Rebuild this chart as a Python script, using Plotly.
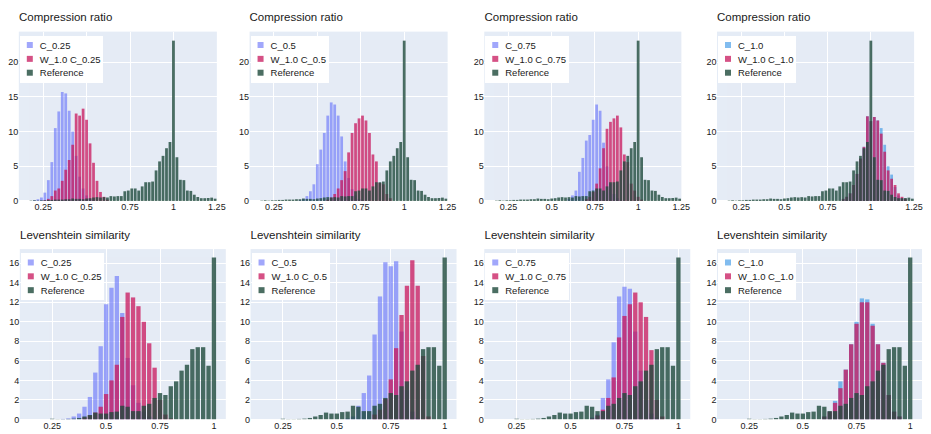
import plotly.graph_objects as go

# ---------------- data ----------------
# top row: compression ratio, bin centres (bin width 0.02)
top_bins = [0.12, 0.14, 0.16, 0.18, 0.20, 0.22, 0.24, 0.26, 0.28, 0.30,
            0.32, 0.34, 0.36, 0.38, 0.40, 0.42, 0.44, 0.46, 0.48, 0.50,
            0.52, 0.54, 0.56, 0.58, 0.60, 0.62, 0.64, 0.66, 0.68, 0.70,
            0.72, 0.74, 0.76, 0.78, 0.80, 0.82, 0.84, 0.86, 0.88, 0.90,
            0.92, 0.94, 0.96, 0.98, 1.00, 1.02, 1.04, 1.06, 1.08, 1.10,
            1.12, 1.14, 1.16, 1.18, 1.20, 1.22, 1.24]

cr_reference = [0, 0, 0, 0.05, 0.1, 0.05, 0.1, 0.1, 0.15, 0.15,
                0.2, 0.2, 0.2, 0.25, 0.25, 0.35, 0.3, 0.3, 0.25, 0.35,
                0.4, 0.5, 0.55, 0.5, 0.55, 0.5, 0.7, 0.65, 0.7, 0.7,
                1.4, 1.5, 1.8, 1.8, 1.5, 2.1, 2.7, 2.7, 2.8, 4.4,
                5.7, 6.5, 7.6, 8.5, 23.1, 6.3, 3.05, 3.0, 1.5, 1.45,
                0.9, 0.57, 0.4, 0.4, 0.43, 0.48, 0.33]

cr_c025 = [0, 0, 0, 0, 0.1, 0.25, 0.5, 1.2, 3.0, 5.6,
           10.5, 12.9, 15.7, 15.5, 13.0, 10.0, 6.5, 3.5, 1.8, 0.8,
           0.3, 0.1, 0, 0, 0, 0, 0, 0, 0, 0,
           0, 0, 0, 0, 0, 0, 0, 0, 0, 0,
           0, 0, 0, 0, 0, 0, 0, 0, 0, 0,
           0, 0, 0, 0, 0, 0, 0]
cr_w_c025 = [0, 0, 0, 0, 0, 0, 0, 0.1, 0.3, 0.7,
             1.5, 1.8, 2.9, 4.5, 5.9, 8.1, 12.6, 12.3, 13.3, 11.7,
             8.3, 5.5, 2.9, 1.3, 0.6, 0.2, 0, 0, 0, 0,
             0, 0, 0, 0, 0, 0, 0, 0, 0, 0,
             0, 0, 0, 0, 0, 0, 0, 0, 0, 0,
             0, 0, 0, 0, 0, 0, 0]

cr_c05 = [0, 0, 0, 0, 0, 0, 0, 0, 0, 0,
          0, 0, 0, 0, 0.1, 0.3, 0.7, 1.4, 2.4, 5.3,
          7.4, 9.8, 12.3, 14.2, 13.9, 12.3, 9.3, 5.7, 3.3, 1.7,
          0.8, 0.3, 0.1, 0, 0, 0, 0, 0, 0, 0,
          0, 0, 0, 0, 0, 0, 0, 0, 0, 0,
          0, 0, 0, 0, 0, 0, 0]
cr_w_c05 = [0, 0, 0, 0, 0, 0, 0, 0, 0, 0,
            0, 0, 0, 0, 0, 0, 0, 0, 0, 0,
            0, 0, 0.2, 0.5, 1.0, 1.8, 3.0, 4.3, 7.0, 9.8,
            11.2, 11.9, 12.3, 11.6, 9.8, 6.7, 5.7, 2.6, 2.4, 1.0,
            0.4, 0, 0, 0, 0, 0, 0, 0, 0, 0,
            0, 0, 0, 0, 0, 0, 0]

cr_c075 = [0, 0, 0, 0, 0, 0, 0, 0, 0, 0,
           0, 0, 0, 0, 0, 0, 0, 0, 0, 0,
           0, 0, 0, 0, 0.3, 0.8, 1.5, 4.2, 6.2, 8.7,
           9.5, 11.7, 13.9, 13.0, 8.4, 5.0, 2.5, 1.0, 0.4, 0.1,
           0, 0, 0, 0, 0, 0, 0, 0, 0, 0,
           0, 0, 0, 0, 0, 0, 0]
cr_w_c075 = [0, 0, 0, 0, 0, 0, 0, 0, 0, 0,
             0, 0, 0, 0, 0, 0, 0, 0, 0, 0,
             0, 0, 0, 0, 0, 0, 0, 0, 0, 0.3,
             0.6, 1.3, 2.5, 4.7, 7.6, 10.4, 11.4, 11.9, 12.3, 10.6,
             6.7, 5.6, 2.5, 1.5, 0.6, 0.2, 0, 0, 0, 0,
             0, 0, 0, 0, 0, 0, 0]

cr_c10 = [0, 0, 0, 0, 0, 0, 0, 0, 0, 0,
          0, 0, 0, 0, 0, 0, 0, 0, 0, 0,
          0, 0, 0, 0, 0, 0, 0, 0, 0, 0,
          0, 0, 0, 0, 0, 0, 0.3, 0.6, 1.1, 2.3,
          3.9, 6.1, 7.8, 12.2, 11.5, 12.1, 11.6, 10.5, 8.1, 5.0,
          3.8, 2.0, 0.8, 0.4, 0.2, 0, 0]
cr_w_c10 = [0, 0, 0, 0, 0, 0, 0, 0, 0, 0,
            0, 0, 0, 0, 0, 0, 0, 0, 0, 0,
            0, 0, 0, 0, 0, 0, 0, 0, 0, 0,
            0, 0, 0, 0, 0, 0, 0.3, 0.6, 1.1, 2.3,
            3.9, 6.1, 7.8, 12.2, 11.5, 12.1, 11.6, 9.7, 7.1, 4.4,
            3.2, 2.3, 1.1, 0.6, 0.3, 0, 0]

# bottom row: Levenshtein similarity, bin centres (bin width 0.025)
bot_bins = [0.1, 0.125, 0.15, 0.175, 0.2, 0.225, 0.25, 0.275, 0.3, 0.325,
            0.35, 0.375, 0.4, 0.425, 0.45, 0.475, 0.5, 0.525, 0.55, 0.575,
            0.6, 0.625, 0.65, 0.675, 0.7, 0.725, 0.75, 0.775, 0.8, 0.825,
            0.85, 0.875, 0.9, 0.925, 0.95, 0.975, 1.0]

lv_reference = [0, 0, 0, 0, 0, 0, 0.07, 0.03, 0.03, 0.05,
                0.08, 0.15, 0.3, 0.45, 0.7, 0.6, 0.6, 0.75, 0.8, 1.4,
                1.3, 0.85, 0.85, 1.4, 1.6, 2.2, 2.7, 2.5, 3.4, 3.9,
                5.0, 5.6, 7.2, 7.4, 7.4, 5.5, 16.6]

lv_c025 = [0, 0, 0, 0, 0, 0, 0, 0, 0.05, 0.1,
           0.3, 0.6, 1.3, 2.3, 4.8, 7.5, 11.8, 13.5, 14.7, 10.9,
           6.3, 3.5, 1.7, 0.8, 0.3, 0.1, 0, 0, 0, 0,
           0, 0, 0, 0, 0, 0, 0]
lv_w_c025 = [0, 0, 0, 0, 0, 0, 0, 0, 0, 0,
             0, 0, 0.2, 0.4, 0.7, 1.3, 2.6, 4.0, 5.6, 10.5,
             13.0, 12.5, 11.6, 10.0, 7.8, 5.3, 2.0, 0.5, 0.1, 0,
             0, 0, 0, 0, 0, 0, 0]

lv_c05 = [0, 0, 0, 0, 0, 0, 0, 0, 0, 0,
          0, 0, 0, 0, 0, 0, 0, 0, 0.1, 0.3,
          1.4, 2.7, 4.5, 8.7, 12.6, 16.1, 15.7, 16.2, 9.0, 3.0,
          0.8, 0.2, 0, 0, 0, 0, 0]
lv_w_c05 = [0, 0, 0, 0, 0, 0, 0, 0, 0, 0,
            0, 0, 0, 0, 0, 0, 0, 0, 0, 0,
            0, 0, 0, 0.5, 1.0, 2.1, 4.1, 7.3, 10.7, 13.7,
            16.3, 13.7, 6.5, 0.3, 0, 0, 0]

lv_c075 = [0, 0, 0, 0, 0, 0, 0, 0, 0, 0,
           0, 0, 0, 0, 0, 0, 0, 0, 0, 0,
           0.2, 0.5, 2.2, 4.1, 7.9, 12.6, 13.6, 13.4, 9.0, 5.0,
           2.0, 0.6, 0.2, 0, 0, 0, 0]
lv_w_c075 = [0, 0, 0, 0, 0, 0, 0, 0, 0, 0,
             0, 0, 0, 0, 0, 0, 0, 0, 0, 0,
             0.1, 0.4, 1.0, 2.2, 4.3, 8.4, 10.6, 11.8, 13.0, 12.0,
             10.5, 7.1, 2.0, 0.3, 0, 0, 0]

lv_c10 = [0, 0, 0, 0, 0, 0, 0, 0, 0, 0,
          0, 0, 0, 0, 0, 0, 0, 0, 0, 0,
          0.3, 0.8, 1.9, 3.9, 5.1, 7.7, 10.0, 12.4, 12.3, 9.8,
          7.7, 5.8, 2.5, 0.8, 0.3, 0, 0]
lv_w_c10 = [0, 0, 0, 0, 0, 0, 0, 0, 0, 0,
            0, 0, 0, 0, 0, 0, 0, 0, 0, 0,
            0.3, 0.8, 1.7, 3.2, 5.1, 7.7, 9.8, 12.0, 12.0, 9.6,
            7.7, 5.8, 2.5, 0.8, 0.3, 0, 0]

c_labels = ["C_0.25", "C_0.5", "C_0.75", "C_1.0"]
w_labels = ["W_1.0 C_0.25", "W_1.0 C_0.5", "W_1.0 C_0.75", "W_1.0 C_1.0"]
ref_label = "Reference"
titles = ["Compression ratio", "Levenshtein similarity"]

top_c = [cr_c025, cr_c05, cr_c075, cr_c10]
top_w = [cr_w_c025, cr_w_c05, cr_w_c075, cr_w_c10]
bot_c = [lv_c025, lv_c05, lv_c075, lv_c10]
bot_w = [lv_w_c025, lv_w_c05, lv_w_c075, lv_w_c10]

# ---------------- layout geometry ----------------
# positions measured in output pixels of the 931x434 page
PW, PH = 931, 434
SCALE = 0.5                       # figure is drawn at 2x and shown at half size
W, H = int(PW / SCALE), int(PH / SCALE)
top_x = [(19, 219), (252, 452), (489, 688), (724, 923)]
bot_x = [(20, 228), (253, 461), (489, 697), (724, 931)]
top_y = (32, 203.3)
bot_y = (252, 424.3)
top_range = [0.11, 1.25]
bot_range = [0.1, 1.055]

C_BLUE = "#636EFA"
C_LBLUE = "#2E91E5"
C_PINK = "#C8175D"
C_GREEN = "#1F4A3C"
FONT = "Liberation Sans, Arial, Helvetica, sans-serif"
TXT = "#1a1a1a"

fig = go.Figure()
layout = dict(
    width=W, height=H, margin=dict(l=0, r=0, t=0, b=0),
    template="plotly", barmode="overlay", showlegend=True,
    font=dict(family=FONT, size=18, color=TXT),
    plot_bgcolor="#E5ECF6", paper_bgcolor="white",
)
annotations = []

idx = 0
for row in range(2):
    bins = top_bins if row == 0 else bot_bins
    binw = 0.02 if row == 0 else 0.025
    ref = cr_reference if row == 0 else lv_reference
    cs = top_c if row == 0 else bot_c
    ws = top_w if row == 0 else bot_w
    xs = top_x if row == 0 else bot_x
    ys = top_y if row == 0 else bot_y
    for col in range(4):
        idx += 1
        ax = "" if idx == 1 else str(idx)
        leg = "legend" if idx == 1 else "legend%d" % idx
        blue = C_LBLUE if col == 3 else C_BLUE
        series = [(c_labels[col], cs[col], blue, 0.6),
                  (w_labels[col], ws[col], C_PINK, 0.75),
                  (ref_label, ref, C_GREEN, 0.8)]
        for name, vals, colr, op in series:
            fig.add_trace(go.Bar(
                x=bins, y=vals, name=name, width=binw * 0.8,
                marker=dict(color=colr, line=dict(width=0)),
                opacity=op, xaxis="x" + ax, yaxis="y" + ax, legend=leg,
            ))
        x0, x1 = xs[col]
        y0, y1 = ys
        layout["xaxis" + ax] = dict(
            domain=[x0 / PW, min(x1 / PW, 1)], anchor="y" + ax,
            range=top_range if row == 0 else bot_range,
            tick0=0, dtick=0.25, gridcolor="white", gridwidth=2,
            showline=False, zeroline=False, ticks="",
            tickfont=dict(size=18, color=TXT),
        )
        layout["yaxis" + ax] = dict(
            domain=[1 - y1 / PH, 1 - y0 / PH], anchor="x" + ax,
            range=[0, 24.4] if row == 0 else [0, 17.45],
            dtick=5 if row == 0 else 2, gridcolor="white", gridwidth=2,
            zeroline=True, zerolinecolor="white", zerolinewidth=2,
            ticks="", tickfont=dict(size=18, color=TXT),
        )
        layout[leg] = dict(
            x=(x0 + 1) / PW, y=1 - (y0 + 4) / PH, xanchor="left", yanchor="top",
            bgcolor="white", font=dict(size=19, family=FONT, color=TXT),
            tracegroupgap=0,
        )
        annotations.append(dict(
            text=titles[row], xref="paper", yref="paper",
            x=(x0 - 1) / PW, y=1 - (y0 - 15) / PH, xanchor="left", yanchor="middle",
            showarrow=False, font=dict(size=23, family=FONT, color=TXT),
        ))

layout["annotations"] = annotations
fig.update_layout(**layout)

post = (
    "var gd=document.querySelector('.plotly-graph-div');"
    "document.documentElement.style.margin='0';"
    "document.documentElement.style.overflow='hidden';"
    "document.body.style.margin='0';"
    "document.body.style.overflow='hidden';"
    "gd.style.transformOrigin='0 0';"
    "gd.style.transform='scale(%s)';" % SCALE
)
fig.write_html("out.html", post_script=post,
               config={"displayModeBar": False, "staticPlot": True})
